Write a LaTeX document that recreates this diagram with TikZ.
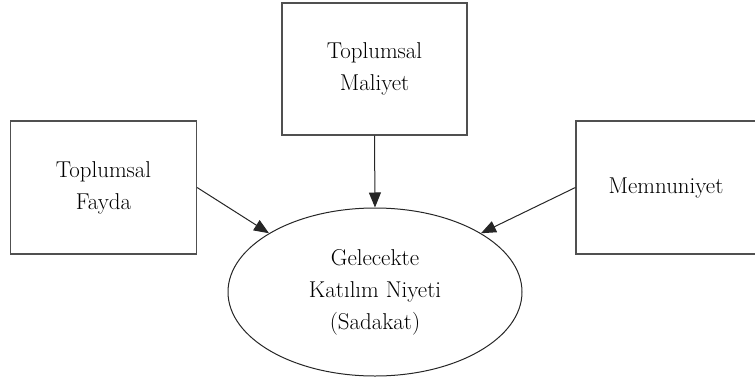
\documentclass[tikz,border=0pt]{standalone}
\usepackage{tikz}
\usetikzlibrary{arrows.meta,positioning,shapes.geometric}
\definecolor{boxGray}{HTML}{505050}

\begin{document}
\begin{tikzpicture}[x=1bp,y=1bp,
    factorbox/.style={draw=boxGray,line width=1.2bp,minimum width=186bp,minimum height=133bp,align=center,inner sep=0pt,font=\fontsize{23}{32}\selectfont},
    outcome/.style={ellipse,draw=black!85,line width=1bp,minimum width=294bp,minimum height=168bp,align=center,inner sep=0pt,font=\fontsize{23}{32}\selectfont},
    infl/.style={draw=black!85,line width=1bp,-{Triangle[length=15bp,width=12bp]}}]
  \useasboundingbox (0,0) rectangle (755,380);
  % kutular
  \node[factorbox] (fayda) at (103.5,192.5) {Toplumsal\\Fayda};
  \node[factorbox,minimum width=185bp,minimum height=132bp] (maliyet) at (374.5,311) {Toplumsal\\Maliyet};
  \node[factorbox,minimum width=180bp] (memnun) at (666,192.5) {Memnuniyet};
  % sadakat
  \node[outcome] (niyet) at (375,88) {Gelecekte\\Katılım Niyeti\\(Sadakat)};
  % etkiler
  \draw[infl] (fayda.east) -- (niyet.151);
  \draw[infl] (maliyet.south) -- (niyet.north);
  \draw[infl] (memnun.west) -- (niyet.29);
\end{tikzpicture}
\end{document}
